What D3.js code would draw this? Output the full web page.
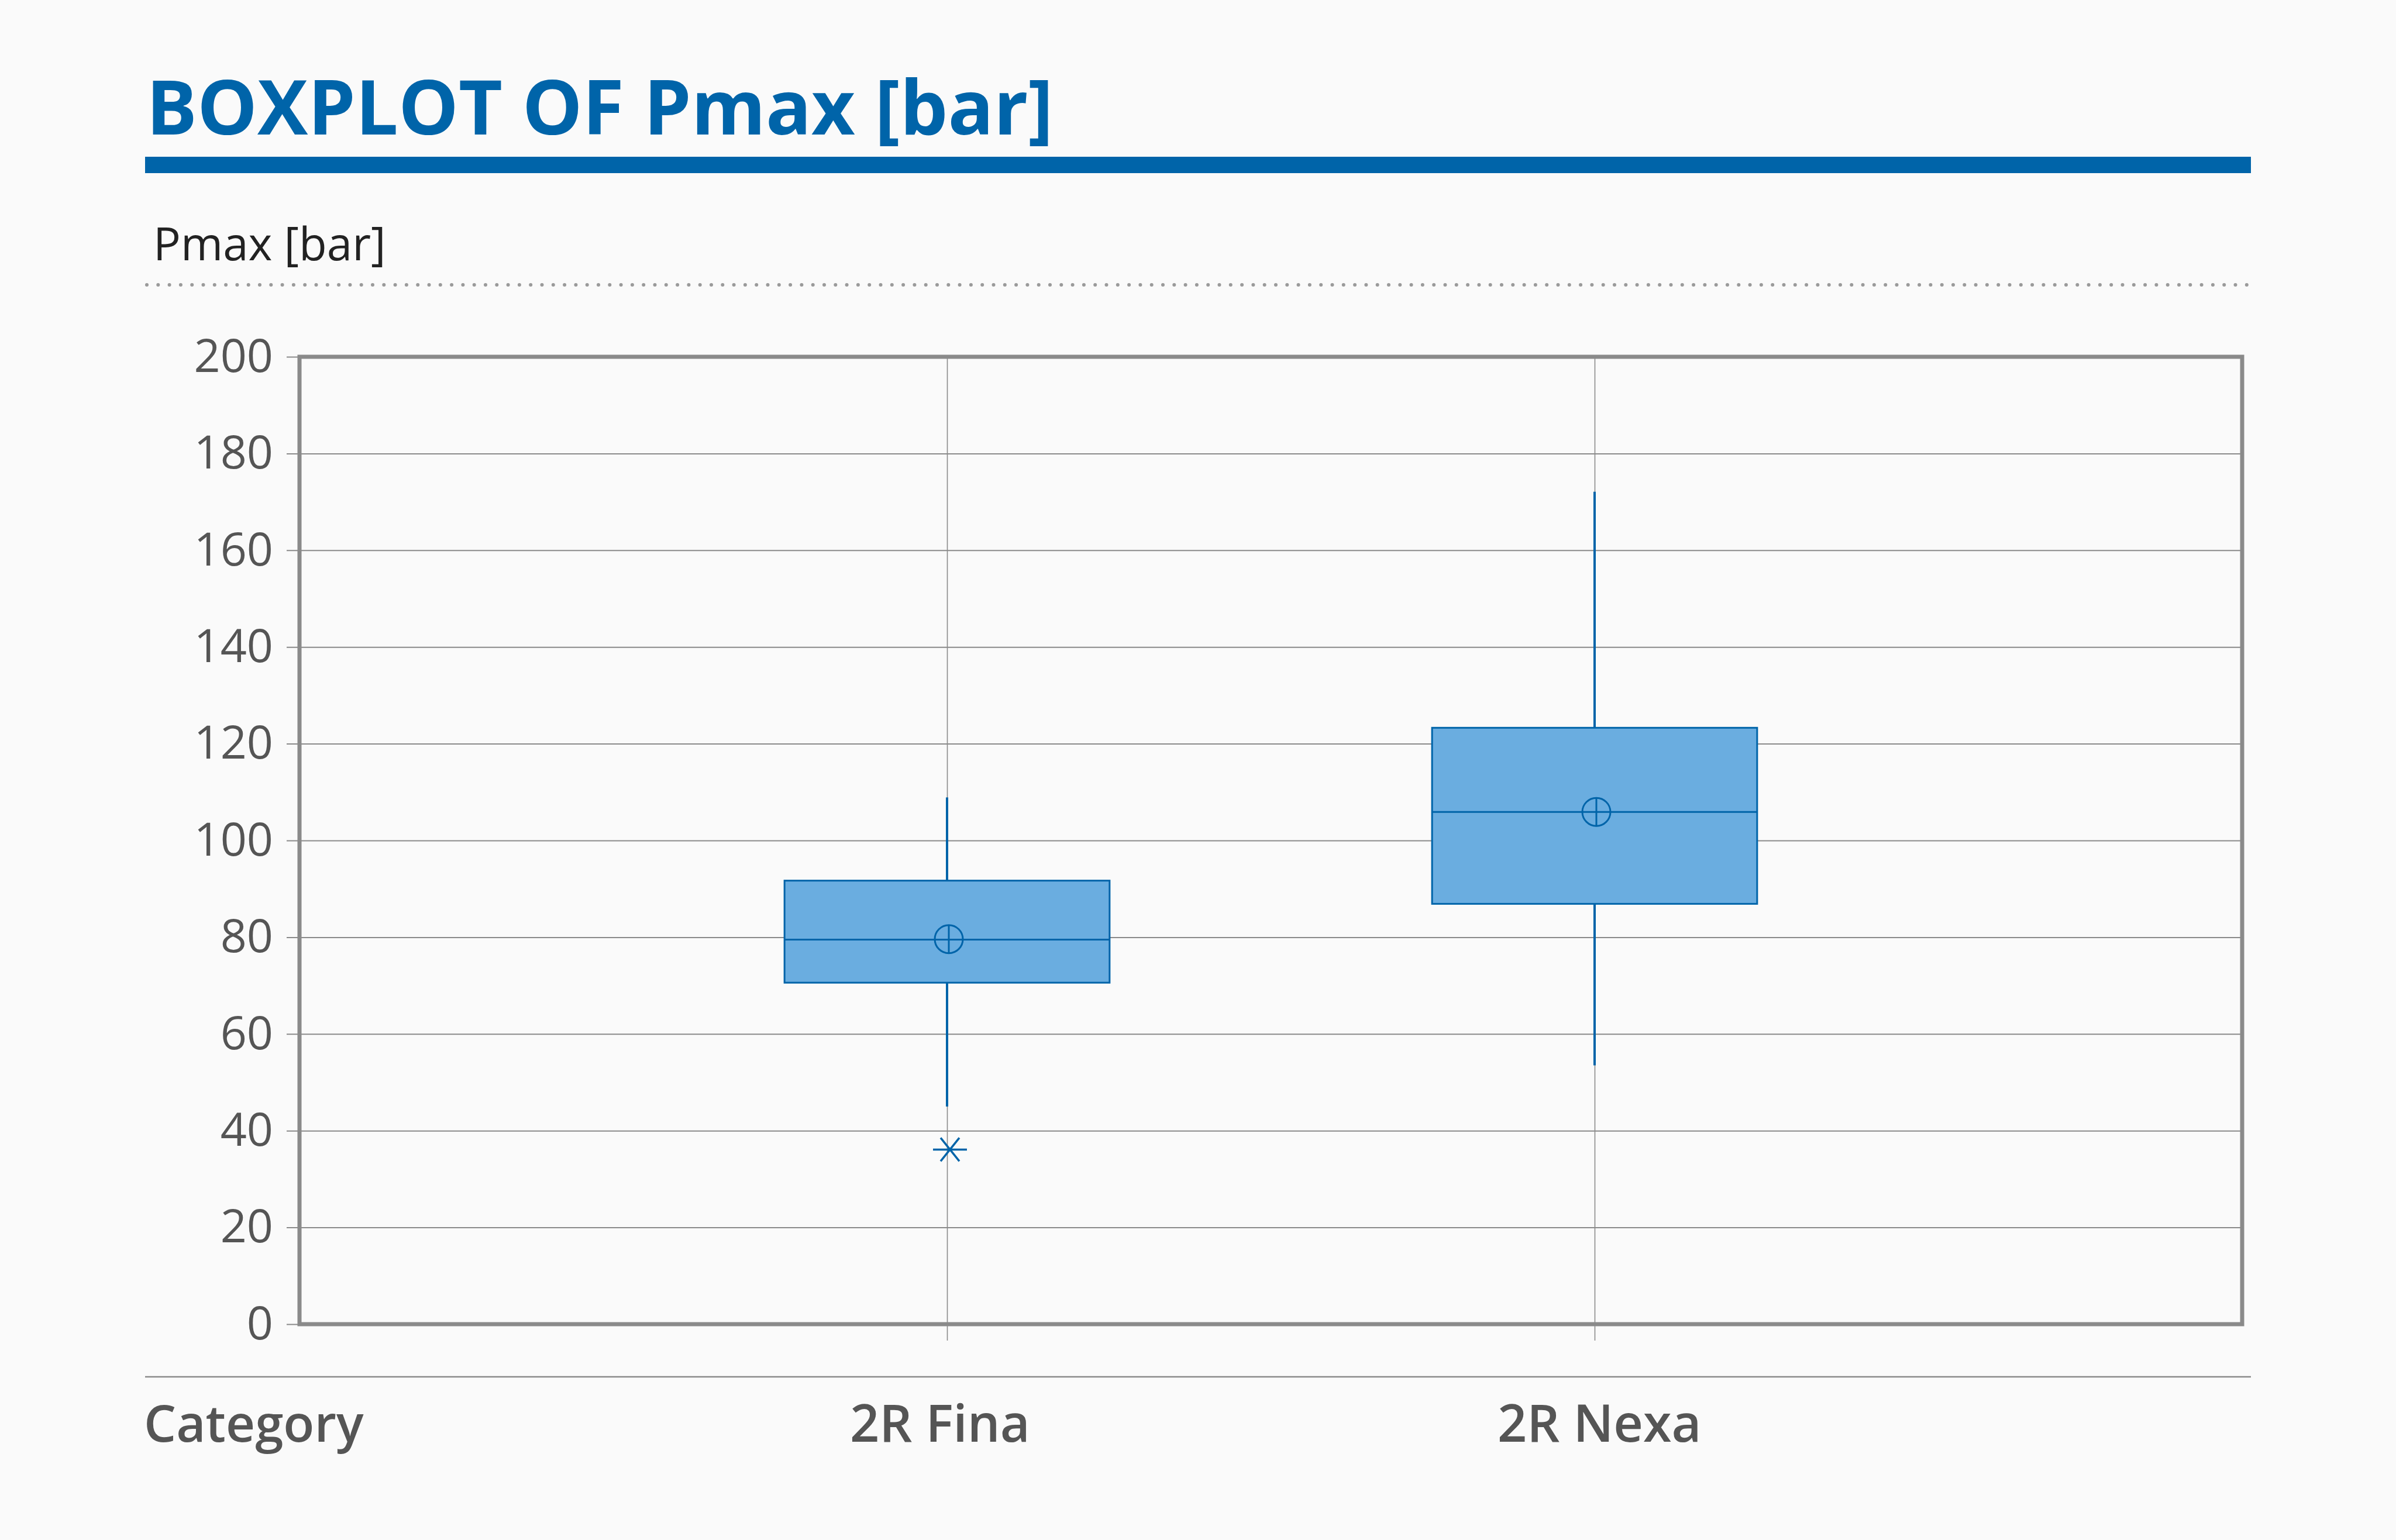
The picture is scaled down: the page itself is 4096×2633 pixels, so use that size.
<!DOCTYPE html>
<html>
<head>
<meta charset="utf-8">
<script src="https://cdn.jsdelivr.net/npm/d3@7"></script>
<style>
  html, body { margin: 0; padding: 0; background: #fafafa; }
  svg { display: block; }
  text { font-family: "Open Sans", "Noto Sans", sans-serif; }
</style>
</head>
<body>
<script>
// ---- data ----
const categories = ["2R Fina", "2R Nexa"];
const whiskerLow  = [45.0, 53.5];
const q1Values    = [70.6, 86.9];
const medians     = [79.5, 105.9];
const q3Values    = [91.7, 123.3];
const whiskerHigh = [108.9, 172.1];
const means       = [79.6, 105.9];
const outliers    = [[36.1], []];
const yTicks = [0, 20, 40, 60, 80, 100, 120, 140, 160, 180, 200];
const titleText = "BOXPLOT OF Pmax [bar]";
const yTitle = "Pmax [bar]";
const xTitle = "Category";

// ---- layout ----
const W = 4096, H = 2633;
const plot = { left: 512, right: 3833, top: 610, bottom: 2264 };
const blue = "#0064a9";
const fill = "#6aade0";
const gray = "#8a8a8a";
const textGray = "#555555";

const svg = d3.select("body").append("svg")
  .attr("width", W).attr("height", H)
  .style("background", "#fafafa");

// title
svg.append("text")
  .attr("x", 250).attr("y", 230)
  .attr("font-size", 129.5).attr("font-weight", 700)
  .attr("fill", blue)
  .text(titleText);
svg.append("rect")
  .attr("x", 248).attr("y", 268).attr("width", 3600).attr("height", 28)
  .attr("fill", blue);

// sub title (y axis title)
svg.append("text")
  .attr("x", 262).attr("y", 445)
  .attr("font-size", 78).attr("fill", "#222")
  .text(yTitle);
svg.append("line")
  .attr("x1", 251).attr("x2", 3848).attr("y1", 487).attr("y2", 487)
  .attr("stroke", "#9a9a9a").attr("stroke-width", 6)
  .attr("stroke-linecap", "round")
  .attr("stroke-dasharray", "0 19.3");

// scales
const x = d3.scalePoint().domain(categories).range([plot.left, plot.right]).padding(1);
const y = d3.scaleLinear().domain([0, 200]).range([plot.bottom, plot.top]);
const boxW = x.step() * 0.502;

// y axis + horizontal gridlines
const yAxis = svg.append("g")
  .attr("transform", `translate(${plot.left},0)`)
  .call(d3.axisLeft(y).tickValues(yTicks).tickSizeInner(-(plot.right - plot.left)).tickSizeOuter(0).tickPadding(45));
yAxis.select(".domain").remove();
yAxis.selectAll(".tick line")
  .attr("x1", -22)
  .attr("stroke", gray).attr("stroke-width", 2);
yAxis.selectAll(".tick text")
  .attr("font-size", 79).attr("fill", textGray)
  .attr("font-family", "'Open Sans', sans-serif");

// x axis + vertical gridlines
const xAxis = svg.append("g")
  .attr("transform", `translate(0,${plot.bottom})`)
  .call(d3.axisBottom(x).tickSizeInner(-(plot.bottom - plot.top)).tickSizeOuter(0).tickFormat(""));
xAxis.select(".domain").remove();
xAxis.selectAll(".tick line")
  .attr("y1", 28)
  .attr("stroke", gray).attr("stroke-width", 1.6);

// frame
svg.append("rect")
  .attr("x", plot.left).attr("y", plot.top)
  .attr("width", plot.right - plot.left).attr("height", plot.bottom - plot.top)
  .attr("fill", "none").attr("stroke", gray).attr("stroke-width", 7);

// separator and category labels
svg.append("line")
  .attr("x1", 248).attr("x2", 3848).attr("y1", 2354).attr("y2", 2354)
  .attr("stroke", gray).attr("stroke-width", 2.5);
svg.append("text")
  .attr("x", 246).attr("y", 2465)
  .attr("font-size", 87).attr("font-weight", 600).attr("fill", textGray)
  .text(xTitle);
svg.selectAll(".catlabel").data(categories).enter().append("text")
  .attr("class", "catlabel")
  .attr("x", d => x(d) - 166).attr("y", 2465)
  .attr("text-anchor", "start")
  .attr("font-size", 88).attr("font-weight", 600).attr("fill", textGray)
  .text(d => d);

// boxes
const boxes = svg.selectAll(".box").data(categories).enter().append("g").attr("class", "box");
// whiskers
boxes.append("line")
  .attr("x1", d => x(d)).attr("x2", d => x(d))
  .attr("y1", (d, i) => y(whiskerHigh[i])).attr("y2", (d, i) => y(q3Values[i]))
  .attr("stroke", blue).attr("stroke-width", 4);
boxes.append("line")
  .attr("x1", d => x(d)).attr("x2", d => x(d))
  .attr("y1", (d, i) => y(q1Values[i])).attr("y2", (d, i) => y(whiskerLow[i]))
  .attr("stroke", blue).attr("stroke-width", 4);
// box
boxes.append("rect")
  .attr("x", d => x(d) - boxW / 2)
  .attr("y", (d, i) => y(q3Values[i]))
  .attr("width", boxW)
  .attr("height", (d, i) => y(q1Values[i]) - y(q3Values[i]))
  .attr("fill", fill).attr("stroke", blue).attr("stroke-width", 3);
// median
boxes.append("line")
  .attr("x1", d => x(d) - boxW / 2).attr("x2", d => x(d) + boxW / 2)
  .attr("y1", (d, i) => y(medians[i])).attr("y2", (d, i) => y(medians[i]))
  .attr("stroke", blue).attr("stroke-width", 3);
// mean marker (circle with cross)
const r = 24;
boxes.append("circle")
  .attr("cx", d => x(d) + 3).attr("cy", (d, i) => y(means[i]))
  .attr("r", r).attr("fill", "none").attr("stroke", blue).attr("stroke-width", 3);
boxes.append("line")
  .attr("x1", d => x(d) + 3).attr("x2", d => x(d) + 3)
  .attr("y1", (d, i) => y(means[i]) - r).attr("y2", (d, i) => y(means[i]) + r)
  .attr("stroke", blue).attr("stroke-width", 3);

// outliers (asterisk)
const outData = [];
categories.forEach((c, i) => outliers[i].forEach(v => outData.push({ c, v })));
const ast = svg.selectAll(".outlier").data(outData).enter().append("g")
  .attr("class", "outlier")
  .attr("transform", d => `translate(${x(d.c) + 5},${y(d.v)})`);
ast.append("line").attr("x1", -29).attr("x2", 29).attr("y1", 0).attr("y2", 0)
  .attr("stroke", blue).attr("stroke-width", 3.5);
ast.append("line").attr("x1", -16).attr("x2", 16).attr("y1", -20).attr("y2", 20)
  .attr("stroke", blue).attr("stroke-width", 3.5);
ast.append("line").attr("x1", -16).attr("x2", 16).attr("y1", 20).attr("y2", -20)
  .attr("stroke", blue).attr("stroke-width", 3.5);
</script>
</body>
</html>
